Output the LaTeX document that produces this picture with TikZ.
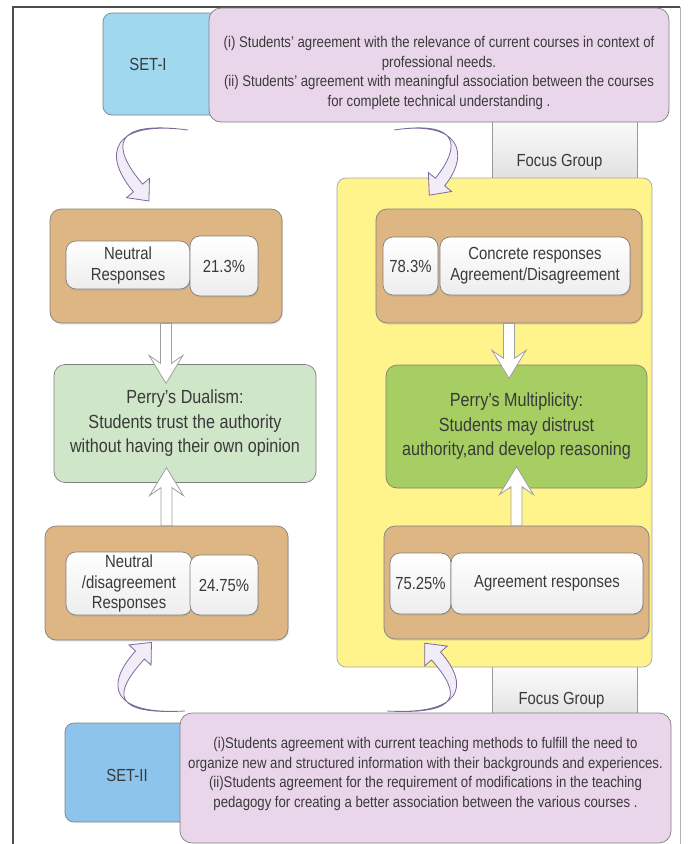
\documentclass[tikz,border=0pt]{standalone}
\usepackage{fontspec}
\setmainfont{Liberation Sans}[FakeStretch=0.85]
\usepackage{xcolor}
\usepackage{tikz}
\usetikzlibrary{calc,shadows}
\definecolor{setOneBlue}{HTML}{A0D8EF}
\definecolor{setTwoBlue}{HTML}{8CC4EC}
\definecolor{infoPink}{HTML}{EAD6EA}
\definecolor{focusGrey}{HTML}{F1F1F1}
\definecolor{groupYellow}{HTML}{FFF38C}
\definecolor{respTan}{HTML}{DDB683}
\definecolor{dualGreen}{HTML}{CFE6C8}
\definecolor{multiGreen}{HTML}{A6CE62}
\definecolor{bentFill}{HTML}{F0ECF8}
\definecolor{bentEdge}{HTML}{7D699B}
\definecolor{edgeGrey}{HTML}{808080}
\definecolor{inkGrey}{HTML}{3A3A3A}

\newcommand{\boxfont}{\fontsize{17.5}{21}\selectfont}
\newcommand{\infofont}{\fontsize{15.5}{19.5}\selectfont}
\newcommand{\stagefont}{\fontsize{19}{24.5}\selectfont}

% white block arrow: start, tip
\newcommand{\hollowarrow}[2]{%
  \path ($(#2)!20pt!(#1)$) coordinate (ha-n) ($(#2)!28pt!(#1)$) coordinate (ha-b);
  \draw[blockarrow] ($(#1)!5.5pt!90:(#2)$) -- ($(ha-n)!5.5pt!90:(#2)$)
    -- ($(ha-b)!17pt!90:(#2)$) -- (#2) -- ($(ha-b)!17pt!-90:(#2)$)
    -- ($(ha-n)!5.5pt!-90:(#2)$) -- ($(#1)!5.5pt!-90:(#2)$) -- cycle;
}
% curved lilac arrow: tail, control, control, end of band
\newcommand{\bentarrow}[4]{%
  \path ($(#4)!6pt!90:(#3)$) coordinate (ba-p1) ($(#4)!6pt!-90:(#3)$) coordinate (ba-p2)
    ($(#3)+(ba-p1)-(#4)$) coordinate (ba-c1) ($(#3)+(ba-p2)-(#4)$) coordinate (ba-c2)
    ($(#4)!15pt!90:(#3)$) coordinate (ba-h1) ($(#4)!15pt!-90:(#3)$) coordinate (ba-h2)
    ($(#4)!-17pt!(#3)$) coordinate (ba-t);
  \draw[bentline] (#1) .. controls (#2) and (ba-c1) .. (ba-p1) -- (ba-h1) -- (ba-t)
    -- (ba-h2) -- (ba-p2) .. controls (ba-c2) and (#2) .. (#1) -- cycle;
}

\begin{document}
\begin{tikzpicture}[x=1pt,y=-1pt,
  every node/.style={text=inkGrey},
  panel/.style={draw=edgeGrey, line width=0.7pt, rounded corners=9pt, inner sep=2pt, align=center},
  setbox/.style={panel, fill=#1},
  infobox/.style={panel, fill=infoPink, rounded corners=12pt},
  focusbox/.style={draw=edgeGrey!80, line width=0.7pt, top color=white, bottom color=focusGrey!85!gray, inner sep=0pt},
  groupbox/.style={panel, fill=groupYellow, draw=gray!70},
  respbox/.style={panel, fill=respTan, rounded corners=11pt,
    drop shadow={opacity=0.2, shadow xshift=1pt, shadow yshift=-1.5pt}},
  pill/.style={panel, top color=white, bottom color=gray!14, rounded corners=10pt,
    font=\boxfont, drop shadow={opacity=0.2, shadow xshift=1pt, shadow yshift=-1.5pt}},
  stagebox/.style={panel, fill=#1, rounded corners=11pt, font=\stagefont},
  blockarrow/.style={draw=gray!75, line width=0.8pt, fill=white, line join=miter},
  bentline/.style={draw=bentEdge, line width=0.8pt, fill=bentFill}]

  \useasboundingbox (0,0) rectangle (688,844);

  % frame
  \draw[line width=1.2pt, black!70] (13,850) -- (13,7) -- (680,7);
  \draw[line width=0.8pt, gray!60] (680,7) -- (680,850);

  % focus group tabs
  \node[focusbox, minimum width=145, minimum height=70,
    label={[font=\boxfont, yshift=-17, xshift=-5]center:Focus Group}] (focusA) at (564.5,145) {};
  \node[focusbox, minimum width=145, minimum height=60,
    label={[font=\boxfont, yshift=-10, xshift=-3]center:Focus Group}] (focusB) at (564.5,690) {};

  \node[groupbox, minimum width=315, minimum height=489] (group) at (494.5,422.5) {};

  % set I
  \node[setbox=setOneBlue, minimum width=120, minimum height=102,
    label={[font=\boxfont, xshift=-15]center:SET-I}] (setI) at (163,64) {};
  \node[infobox, minimum width=460, minimum height=114,
    label={[font=\infofont, align=center, yshift=-8]center:{(i) Students' agreement with the relevance of current courses in context of\\
      professional needs.\\
      (ii) Students' agreement with meaningful association between the courses\\
      for complete technical understanding .}}] (infoI) at (439,65) {};

  % left column
  \node[respbox, minimum width=232, minimum height=114] (respL1) at (166,266) {};
  \node[pill, minimum width=124, minimum height=48] (neuL1) at (128,265) {Neutral\\Responses};
  \node[pill, minimum width=68, minimum height=60] (pctL1) at (224,266) {21.3\%};

  \node[stagebox=dualGreen, minimum width=262, minimum height=118] (dualism) at (185,423.5)
    {Perry's Dualism:\\Students trust the authority\\without having their own opinion};

  \node[respbox, minimum width=243, minimum height=114] (respL2) at (166.5,583) {};
  \node[pill, minimum width=126, minimum height=63, font=\fontsize{17.5}{20.5}\selectfont] (neuL2) at (129,583.5)
    {Neutral\\/disagreement\\Responses};
  \node[pill, minimum width=68, minimum height=60] (pctL2) at (224,585) {24.75\%};

  % right column
  \node[respbox, minimum width=266, minimum height=114] (respR1) at (509,266) {};
  \node[pill, minimum width=55, minimum height=58, inner sep=0pt] (pctR1) at (410.5,266) {78.3\%};
  \node[pill, minimum width=190, minimum height=58] (conR1) at (535,266)
    {Concrete responses\\Agreement/Disagreement};

  \node[stagebox=multiGreen, minimum width=261, minimum height=123] (multiplicity) at (516.5,426.5)
    {Perry's Multiplicity:\\Students may distrust\\authority,and develop reasoning};

  \node[respbox, minimum width=265, minimum height=113] (respR2) at (516.5,582.5) {};
  \node[pill, minimum width=61, minimum height=61, inner sep=0pt] (pctR2) at (420.5,583.5) {75.25\%};
  \node[pill, minimum width=192, minimum height=61] (agrR2) at (547,583.5) {Agreement responses};

  % white arrows
  \coordinate (tipA) at ($(respL1.south)+(0,60)$);
  \coordinate (tipB) at ($(respL2.north)+(0,-58)$);
  \coordinate (tipC) at ($(respR1.south)+(0,55)$);
  \coordinate (tipD) at ($(respR2.north)+(0,-59)$);
  \hollowarrow{respL1.south}{tipA}
  \hollowarrow{respL2.north}{tipB}
  \hollowarrow{respR1.south}{tipC}
  \hollowarrow{respR2.north}{tipD}

  % curved arrows
  \coordinate (bA0) at (188,130); \coordinate (bA1) at (112,120);
  \coordinate (bA2) at (106,150); \coordinate (bA3) at (138,188);
  \bentarrow{bA0}{bA1}{bA2}{bA3}
  \coordinate (bB0) at (394,130); \coordinate (bB1) at (460,120);
  \coordinate (bB2) at (466,150); \coordinate (bB3) at (440,182);
  \bentarrow{bB0}{bB1}{bB2}{bB3}
  \coordinate (bC0) at (185,711); \coordinate (bC1) at (112,715);
  \coordinate (bC2) at (108,690); \coordinate (bC3) at (140,655);
  \bentarrow{bC0}{bC1}{bC2}{bC3}
  \coordinate (bD0) at (387,711); \coordinate (bD1) at (462,715);
  \coordinate (bD2) at (466,690); \coordinate (bD3) at (436,656);
  \bentarrow{bD0}{bD1}{bD2}{bD3}

  % set II
  \node[setbox=setTwoBlue, minimum width=130, minimum height=99,
    label={[font=\boxfont, xshift=-3, yshift=-2.5]center:SET-II}] (setII) at (130,772.5) {};
  \node[infobox, minimum width=491, minimum height=130,
    label={[font=\infofont, align=center, yshift=4]center:{(i)Students agreement with current teaching methods to fulfill the need to\\
      organize new and structured information with their backgrounds and experiences.\\
      (ii)Students agreement for the requirement of modifications in the teaching\\
      pedagogy for creating a better association between the various courses .}}] (infoII) at (425.5,778) {};
\end{tikzpicture}
\end{document}
